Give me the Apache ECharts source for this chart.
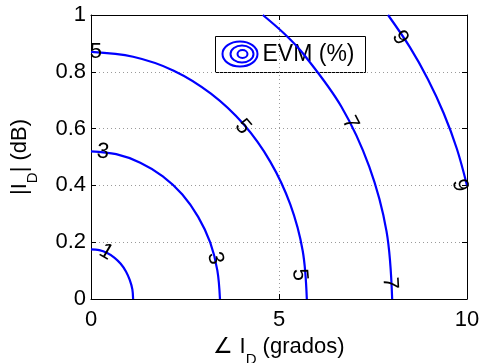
<!DOCTYPE html>
<html>
<head>
<meta charset="utf-8">
<script src="https://cdn.jsdelivr.net/npm/echarts@6/dist/echarts.min.js"></script>
<style>
  html, body { margin: 0; padding: 0; background: #fff; }
  #chart { width: 481px; height: 363px; }
</style>
</head>
<body>
<div id="chart"></div>
<script>
// Axis ranges and ticks
const xTicks = [0, 5, 10];
const yTicks = [0, 0.2, 0.4, 0.6, 0.8, 1];

// Contour levels of EVM (%)
const levels = [1, 3, 5, 7, 9];

// Contour lines as [phase (deg), |I_D| (dB)] points
const contour1 = [[1.12, 0], [1.10, 0.034], [1.03, 0.067], [0.93, 0.097], [0.79, 0.124], [0.62, 0.146], [0.43, 0.162], [0.22, 0.172], [0, 0.175]];
const contour3 = [[3.43, 0], [3.36, 0.101], [3.17, 0.199], [2.85, 0.289], [2.43, 0.368], [1.91, 0.432], [1.31, 0.480], [0.67, 0.510], [0, 0.52]];
const contour5 = [[5.74, 0], [5.63, 0.170], [5.30, 0.333], [4.77, 0.483], [4.06, 0.615], [3.19, 0.723], [2.20, 0.804], [1.12, 0.853], [0, 0.87]];
const contour7 = [[8.01, 0], [7.86, 0.238], [7.40, 0.466], [6.66, 0.677], [5.66, 0.861], [5.15, 0.933], [4.57, 1.0]];
const contour9 = [[10.0, 0.40], [9.73, 0.529], [9.38, 0.654], [8.96, 0.774], [8.48, 0.887], [7.90, 1.0]];
const contours = [contour1, contour3, contour5, contour7, contour9];

// Inline contour labels: level, position and text angle along the line
const labelLevels = [1, 3, 3, 5, 5, 5, 7, 7, 9, 9];
const labelX = [0.40, 0.32, 3.30, 0.13, 4.04, 5.55, 6.89, 7.95, 8.22, 9.81];
const labelY = [0.165, 0.518, 0.144, 0.87, 0.606, 0.085, 0.62, 0.056, 0.92, 0.40];
const labelAngles = [-30, -6, -76, 0, -49, -85, -63, -87, -57, -77];

const FONT = '"Liberation Sans", Arial, Helvetica, sans-serif';
const BLUE = '#0000ff';

const chart = echarts.init(document.getElementById('chart'), null, { renderer: 'canvas' });

const lineSeries = contours.map(pts => ({
  name: 'EVM (%)',
  type: 'line',
  data: pts,
  smooth: 0.35,
  showSymbol: false,
  symbol: 'none',
  lineStyle: { color: BLUE, width: 2.2 },
  clip: true,
  z: 3,
  silent: true
}));

const labelSeries = {
  type: 'scatter',
  symbolSize: 0,
  z: 5,
  silent: true,
  itemStyle: { opacity: 1 },
  data: labelLevels.map((lv, i) => ({
    value: [labelX[i], labelY[i]],
    label: {
      show: true,
      position: 'inside',
      formatter: String(lv),
      rotate: labelAngles[i],
      color: '#000',
      opacity: 1,
      fontSize: 22,
      fontFamily: FONT
    }
  }))
};

const axisCommon = {
  axisLine: { show: true, onZero: false, lineStyle: { color: '#000', width: 1 } },
  axisTick: { show: true, inside: true, length: 5, lineStyle: { color: '#000' } },
  minorTick: { show: false }
};

const titleRich = {
  n: { fontSize: 22, fontFamily: FONT, color: '#000', padding: [0, 0, 9, 0], verticalAlign: 'bottom' },
  s: { fontSize: 15, fontFamily: FONT, color: '#000', verticalAlign: 'bottom' }
};

chart.setOption({
  animation: false,
  backgroundColor: '#fff',
  grid: { left: 91, right: 14, top: 15, bottom: 64, containLabel: false, outerBoundsMode: 'none' },
  xAxis: [
    Object.assign({
      type: 'value', position: 'bottom', min: xTicks[0], max: xTicks[xTicks.length - 1], interval: 5,
      axisLabel: { color: '#000', fontSize: 22, fontFamily: FONT, margin: 10 },
      splitLine: { show: true, lineStyle: { color: '#9a9a9a', type: [1, 3], width: 1 } },
      name: '{n|∠ I}{s|D}{n| (grados)}',
      nameLocation: 'middle',
      nameGap: 30,
      nameTextStyle: { rich: titleRich }
    }, axisCommon),
    Object.assign({
      type: 'value', position: 'top', min: xTicks[0], max: xTicks[xTicks.length - 1], interval: 5,
      axisLabel: { show: false }, splitLine: { show: false }
    }, axisCommon)
  ],
  yAxis: [
    Object.assign({
      type: 'value', position: 'left', min: yTicks[0], max: yTicks[yTicks.length - 1], interval: 0.2,
      axisLabel: { color: '#000', fontSize: 22, fontFamily: FONT, margin: 5,
        formatter: v => String(Math.round(v * 10) / 10) },
      splitLine: { show: true, lineStyle: { color: '#9a9a9a', type: [1, 3], width: 1 } },
      name: '{n||I}{s|D}{n|| (dB)}',
      nameLocation: 'middle',
      nameRotate: 90,
      nameGap: 51,
      nameTextStyle: { rich: titleRich }
    }, axisCommon),
    Object.assign({
      type: 'value', position: 'right', min: yTicks[0], max: yTicks[yTicks.length - 1], interval: 0.2,
      axisLabel: { show: false }, splitLine: { show: false }
    }, axisCommon)
  ],
  series: lineSeries.concat([labelSeries]),
  graphic: [{
    type: 'group',
    left: 215,
    top: 36,
    z: 100,
    children: [
      { type: 'rect', shape: { x: 0, y: 0, width: 150, height: 36 },
        style: { fill: '#fff', stroke: '#000', lineWidth: 1 } },
      { type: 'ellipse', shape: { cx: 24.5, cy: 17.5, rx: 17.5, ry: 12.5 },
        style: { fill: 'none', stroke: BLUE, lineWidth: 2 } },
      { type: 'ellipse', shape: { cx: 26.5, cy: 17.5, rx: 11.5, ry: 8.5 },
        style: { fill: 'none', stroke: BLUE, lineWidth: 2 } },
      { type: 'ellipse', shape: { cx: 27, cy: 17.5, rx: 5, ry: 4 },
        style: { fill: 'none', stroke: BLUE, lineWidth: 2 } },
      { type: 'text', x: 47, y: 18,
        style: { text: 'EVM (%)', fill: '#000', font: '23px ' + FONT, verticalAlign: 'middle' } }
    ]
  }]
});
</script>
</body>
</html>
